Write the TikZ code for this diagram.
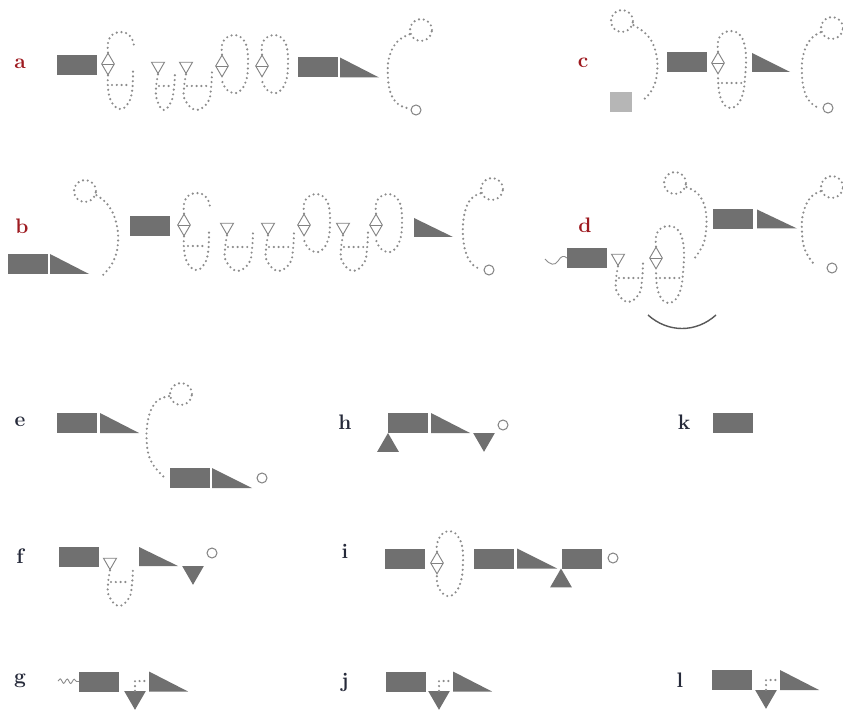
\documentclass[tikz,border=0pt]{standalone}
\usepackage{fontspec}
\usepackage{tikz}
\usetikzlibrary{shapes.geometric,decorations.pathmorphing}
\definecolor{domc}{RGB}{112,112,112}
\definecolor{dotc}{RGB}{140,140,140}
\definecolor{markc}{RGB}{130,130,130}
\definecolor{sqc}{RGB}{182,182,182}
\definecolor{labr}{RGB}{158,26,32}
\definecolor{labk}{RGB}{38,42,58}
\tikzset{
  dom/.style={rectangle,fill=domc,minimum width=40pt,minimum height=20pt,inner sep=0pt},
  sq/.style={rectangle,fill=sqc,minimum width=22pt,minimum height=20pt,inner sep=0pt},
  dots/.style={draw=dotc,line width=2.4pt,line cap=round,dash pattern=on 0pt off 4.8pt},
  dia/.style={diamond,draw=markc,line width=0.9pt,fill=white,minimum width=13pt,minimum height=22pt,inner sep=0pt,
    path picture={\draw[markc,line width=0.8pt] (path picture bounding box.west) -- (path picture bounding box.east);}},
  otri/.style={regular polygon,regular polygon sides=3,shape border rotate=180,draw=markc,line width=0.9pt,minimum size=15pt,inner sep=0pt},
  ftri/.style={regular polygon,regular polygon sides=3,shape border rotate=180,fill=domc,minimum size=25pt,inner sep=0pt},
  utri/.style={regular polygon,regular polygon sides=3,fill=domc,minimum size=25pt,inner sep=0pt},
  ring/.style={circle,draw=markc,line width=1pt,minimum size=10pt,inner sep=0pt},
  dring/.style={circle,dots,minimum size=22pt,inner sep=0pt},
  lab/.style={font=\fontsize{21}{24}\selectfont\bfseries},
  bowl/.style={draw=black!65,line width=1.4pt},
  wiggle/.style={draw=black!45,line width=0.9pt},
  % diamond with upper arc and lower hairpin
  pics/gmod/.style={code={
    \node[dia] (-d) at (0,0) {};
    \draw[dots] plot[smooth,tension=.7] coordinates {(-d.north) (0,-21) (4,-29) (12,-32) (20,-30) (25,-23) (26,-16)};
    \draw[dots] plot[smooth,tension=.7] coordinates {(-d.south) (0,24) (3,37) (11,45) (19,41) (24,28) (25,4)};
    \draw[dots] (4,21) -- (22,21);
  }},
  % diamond with closed loop
  pics/omod/.style={code={
    \node[dia] (-d) at (0,0) {};
    \draw[dots] plot[smooth,tension=.7] coordinates {(-d.north) (0,-21) (4,-28) (12,-31) (20,-28) (25,-18) (26,0) (24,15) (18,25) (11,27) (4,23) (0,15) (-d.south)};
  }},
  % diamond with long loop and chord
  pics/fmod/.style={code={
    \node[dia] (-d) at (0,0) {};
    \draw[dots] plot[smooth,tension=.7] coordinates {(-d.north) (0,-21) (4,-29) (13,-32) (21,-29) (26,-20) (28,-5) (27,15) (25,30) (20,41) (12,45) (5,40) (1,28) (-d.south)};
    \draw[dots] (4,20) -- (24,20);
  }},
  % open triangle with hairpin, #1 = width
  pics/tmod/.style={code={
    \node[otri] (-t) at (0,0) {};
    \draw[dots] plot[smooth,tension=.7] coordinates {(-t.south) (-2,22) (-1,34) ({#1/2-3},44) ({#1-4},36) ({#1-1},22) (#1,5)};
    \draw[dots] (1,20) -- ({#1-3},20);
  }},
}
\begin{document}
\begin{tikzpicture}[x=1pt,y=-1pt]
  \fill[white] (0,0) rectangle (843,711);
  \useasboundingbox (0,0) rectangle (843,711);

  % a
  \node[lab,labr] (la) at (20,64) {a};
  \node[dom] (a1) at (77,65) {};
  \pic (am1) at (108,64) {gmod};
  \pic (am2) at (158,66) {tmod=17};
  \pic (am3) at (186,66) {tmod=26};
  \pic (am4) at (222,66) {omod};
  \pic (am5) at (262,66) {omod};
  \node[dom] (a2) at (318,67.5) {};
  \fill[domc] (340,57.5) |- (379,77.5) -- cycle;
  \node[dring] (ra) at (421,30) {};
  \draw[dots] plot[smooth,tension=.7] coordinates {(ra.200) (397,42) (389,58) (388,78) (391,94) (398,104) (407,108)};
  \node[ring] (ta) at (416,110) {};

  % b
  \node[lab,labr] (lb) at (22,226) {b};
  \node[dom] (b1) at (28,264) {};
  \fill[domc] (50,254) |- (89,274) -- cycle;
  \node[dring] (rb0) at (85,191) {};
  \draw[dots] plot[smooth,tension=.7] coordinates {(rb0.-20) (108,205) (116,222) (118,243) (113,262) (102,276)};
  \node[dom] (b2) at (150,226) {};
  \pic (bm1) at (184,225) {gmod};
  \pic (bm2) at (227,227) {tmod=26};
  \pic (bm3) at (268,227) {tmod=26};
  \pic (bm4) at (304,225) {omod};
  \pic (bm5) at (343,227) {tmod=25};
  \pic (bm6) at (376,225) {omod};
  \fill[domc] (414,218) |- (453,237) -- cycle;
  \node[dring] (rb) at (492,189) {};
  \draw[dots] plot[smooth,tension=.7] coordinates {(rb.200) (470,200) (464,216) (463,236) (466,253) (472,264) (480,269)};
  \node[ring] (tb) at (489,270) {};

  % c
  \node[lab,labr] (lc) at (583,63) {c};
  \node[dring] (rc0) at (622,21) {};
  \draw[dots] plot[smooth,tension=.7] coordinates {(rc0.-20) (648,36) (656,53) (657,73) (652,90) (642,101)};
  \node[sq] (sc) at (621,102) {};
  \node[dom] (c1) at (687,62.5) {};
  \pic (cm1) at (718,63) {fmod};
  \fill[domc] (752,53) |- (790,72) -- cycle;
  \node[dring] (rc) at (832,28) {};
  \draw[dots] plot[smooth,tension=.7] coordinates {(rc.200) (810,40) (803,56) (802,76) (805,93) (811,103) (819,108)};
  \node[ring] (tc) at (828,108) {};

  % d
  \node[lab,labr] (ld) at (585,225) {d};
  \node[dom] (d1) at (587,258) {};
  \draw[wiggle] (545,259) .. controls (550,265) and (555,266) .. (558,261) .. controls (561,256) and (564,255) .. (d1.west);
  \pic (dm1) at (618,258) {tmod=25};
  \pic (dm2) at (656,258) {fmod};
  \draw[bowl] (648,315) .. controls (668,333) and (696,333) .. (716,315);
  \node[dring] (rd0) at (675,183) {};
  \draw[dots] plot[smooth,tension=.7] coordinates {(rd0.-20) (699,195) (706,213) (705,238) (699,252) (692,261)};
  \node[dom] (d2) at (733,219) {};
  \fill[domc] (757,209.5) |- (797,228.5) -- cycle;
  \node[dring] (rd) at (832,187) {};
  \draw[dots] plot[smooth,tension=.7] coordinates {(rd.200) (810,198) (803,214) (802,233) (805,250) (813,263)};
  \node[ring] (td) at (832,268) {};

  % e
  \node[lab,labk] (le) at (20,422) {e};
  \node[dom] (e1) at (77,423) {};
  \fill[domc] (100,413) |- (139,433) -- cycle;
  \node[dring] (re) at (181,394) {};
  \draw[dots] plot[smooth,tension=.7] coordinates {(re.190) (156,402) (148,420) (147,445) (152,463) (165,478)};
  \node[dom] (e2) at (190,478) {};
  \fill[domc] (212,468) |- (252,488) -- cycle;
  \node[ring] (te) at (262,478) {};

  % h
  \node[lab,labk] (lh) at (345,422) {h};
  \node[dom] (h1) at (408,423) {};
  \fill[domc] (431,413) |- (470,433) -- cycle;
  \node[utri] (hu) at (388,445.5) {};
  \node[ftri] (hd) at (484,439.3) {};
  \node[ring] (th) at (503,425) {};

  % k
  \node[lab,labk] (lk) at (684,422) {k};
  \node[dom] (k1) at (733,422.5) {};

  % f
  \node[lab,labk] (lf) at (20,556) {f};
  \node[dom] (f1) at (79,556.5) {};
  \pic (fm1) at (110,562) {tmod=23};
  \fill[domc] (139,547) |- (178,566) -- cycle;
  \node[ftri] (fd) at (193,572.3) {};
  \node[ring] (tf) at (212,553) {};

  % i
  \node[lab,labk] (li) at (345,551) {i};
  \node[dom] (i1) at (405,558.5) {};
  \node[dia] (idia) at (437,563) {};
  \draw[dots] plot[smooth,tension=.7] coordinates {(idia.north) (437,544) (441,535) (449,531) (457,535) (462,546) (463,563) (461,581) (455,593) (447,596) (440,590) (437,582) (idia.south)};
  \node[dom] (i2) at (494,558.5) {};
  \fill[domc] (517,548.5) |- (557,568.5) -- cycle;
  \node[dom] (i3) at (582,558.5) {};
  \node[utri] (iu) at (561,581) {};
  \node[ring] (ti) at (613,558) {};

  % g
  \node[lab,labk] (lg) at (20,681) {g};
  \node[dom] (g1) at (99,681.5) {};
  \draw[wiggle,decorate,decoration={snake,amplitude=2.2pt,segment length=7pt}] (58,681) -- (g1.west);
  \node[ftri] (gd) at (135,697.3) {};
  \coordinate (gw) at (148,681);
  \draw[dots] (gd.north) |- (gw);
  \fill[domc] (149,671.5) |- (188,691.5) -- cycle;

  % j
  \node[lab,labk] (lj) at (345,682) {j};
  \node[dom] (j1) at (406,681.5) {};
  \node[ftri] (jd) at (439,697.3) {};
  \coordinate (jw) at (452,681);
  \draw[dots] (jd.north) |- (jw);
  \fill[domc] (453,671.5) |- (492,691.5) -- cycle;

  % l
  \node[lab,labk] (ll) at (680,680) {l};
  \node[dom] (l1) at (732,680) {};
  \node[ftri] (lt) at (766,696.3) {};
  \coordinate (lw) at (779,680);
  \draw[dots] (lt.north) |- (lw);
  \fill[domc] (780,670) |- (819,690) -- cycle;
\end{tikzpicture}
\end{document}
